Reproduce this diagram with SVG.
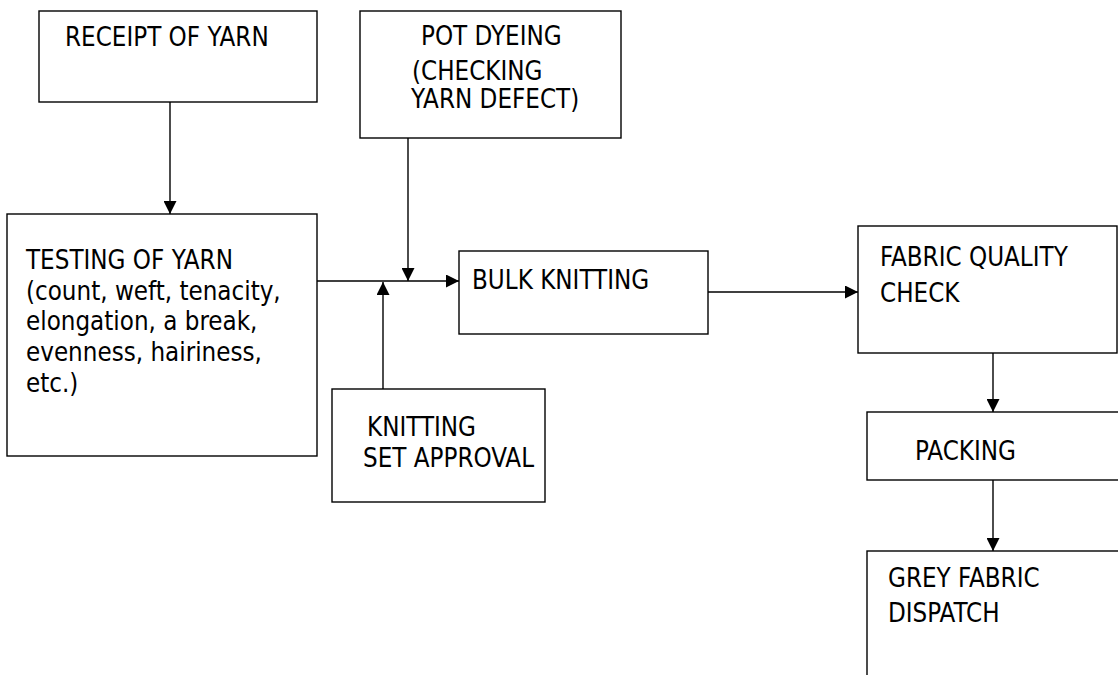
<svg xmlns="http://www.w3.org/2000/svg" width="1118" height="675" viewBox="0 0 1118 675">
<style>
.box{fill:#fff;stroke:#000;stroke-width:1.4}
.t{font-family:"DejaVu Sans Condensed","DejaVu Sans",sans-serif;font-stretch:condensed;font-size:25.7px;fill:#000}
.c{stroke:#000;stroke-width:1.4;fill:none}
</style>
<defs>
<marker id="ah" markerUnits="userSpaceOnUse" markerWidth="14" markerHeight="13" refX="13" refY="6.5" orient="auto">
<path d="M0,0 L13,6.5 L0,13 Z" fill="#000"/>
</marker>
</defs>
<rect width="1118" height="675" fill="#fff"/>
<g id="receipt"><rect class="box" x="39" y="11" width="278" height="91"/><text class="t" x="65" y="46">RECEIPT OF YARN</text></g>
<g id="pot"><rect class="box" x="360" y="11" width="261" height="127"/><text class="t" x="421" y="45">POT DYEING</text><text class="t" x="412" y="80">(CHECKING</text><text class="t" x="411" y="108">YARN DEFECT)</text></g>
<g id="testing"><rect class="box" x="7" y="214" width="310" height="242"/>
<text class="t" x="26" y="269">TESTING OF YARN</text>
<text class="t" x="26" y="300">(count, weft, tenacity,</text>
<text class="t" x="26" y="330">elongation, a break,</text>
<text class="t" x="26" y="361">evenness, hairiness,</text>
<text class="t" x="26" y="392">etc.)</text></g>
<g id="knitset"><rect class="box" x="332" y="389" width="213" height="113"/><text class="t" x="367" y="436">KNITTING</text><text class="t" x="363" y="467">SET APPROVAL</text></g>
<g id="bulk"><rect class="box" x="459" y="251" width="249" height="83"/><text class="t" x="472" y="289">BULK KNITTING</text></g>
<g id="fabric"><rect class="box" x="858" y="226" width="259" height="127"/><text class="t" x="880" y="266">FABRIC QUALITY</text><text class="t" x="880" y="302">CHECK</text></g>
<g id="packing"><rect class="box" x="867" y="412" width="260" height="68"/><text class="t" x="915" y="460">PACKING</text></g>
<g id="grey"><rect class="box" x="867" y="551" width="260" height="140"/><text class="t" x="888" y="587">GREY FABRIC</text><text class="t" x="888" y="622">DISPATCH</text></g>
<g id="connectors">
<line class="c" x1="170" y1="102" x2="170" y2="214" marker-end="url(#ah)"/>
<line class="c" x1="408" y1="138" x2="408" y2="281" marker-end="url(#ah)"/>
<line class="c" x1="383" y1="389" x2="383" y2="282" marker-end="url(#ah)"/>
<line class="c" x1="317" y1="281" x2="459" y2="281" marker-end="url(#ah)"/>
<line class="c" x1="708" y1="292" x2="858" y2="292" marker-end="url(#ah)"/>
<line class="c" x1="993" y1="353" x2="993" y2="412" marker-end="url(#ah)"/>
<line class="c" x1="993" y1="480" x2="993" y2="551" marker-end="url(#ah)"/>
</g>
</svg>
